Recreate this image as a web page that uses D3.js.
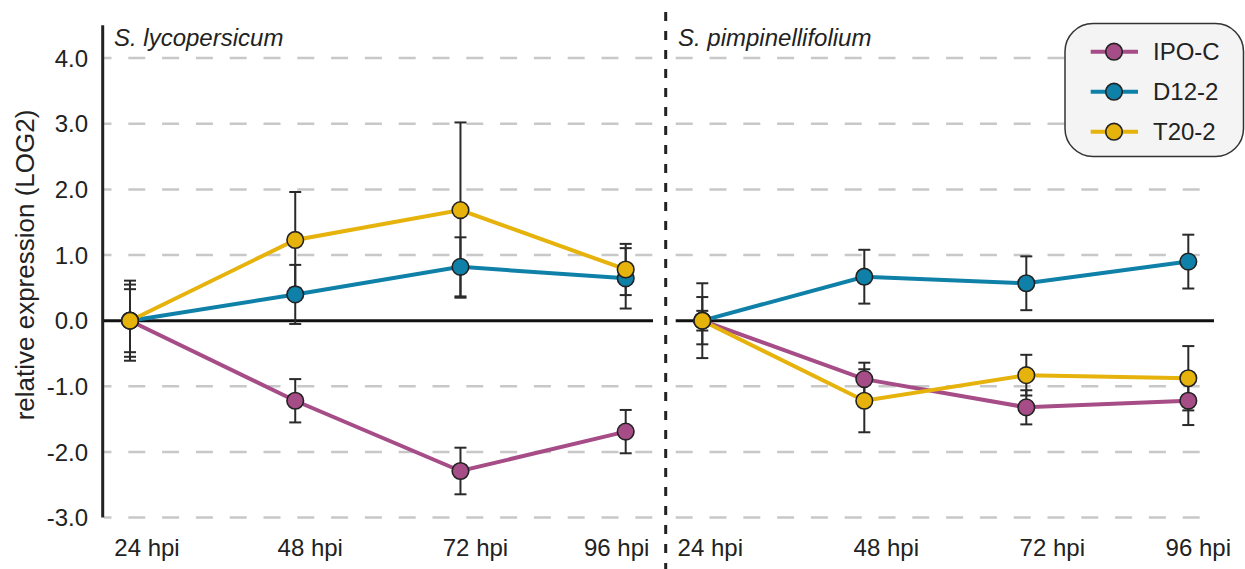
<!DOCTYPE html>
<html>
<head>
<meta charset="utf-8">
<script src="https://cdn.jsdelivr.net/npm/d3@7"></script>
<style>
  body { margin: 0; background: #fff; }
  svg { display: block; font-family: 'Liberation Sans', Arial, sans-serif; }
</style>
</head>
<body>
<svg id="chart" width="1245" height="569"></svg>
<script>
// time points and y ticks
const hpi = ['24 hpi', '48 hpi', '72 hpi', '96 hpi'];
const yTicks = [-3, -2, -1, 0, 1, 2, 3, 4];
const lines = ['IPO-C', 'D12-2', 'T20-2'];
const lineColors = ['#a64d87', '#0f80a8', '#e6b20c'];

// S. lycopersicum
const lycoIPO = [0, -1.22, -2.29, -1.69];
const lycoIPOErr = [0.55, 0.33, 0.355, 0.33];
const lycoD12 = [0, 0.40, 0.82, 0.645];
const lycoD12Err = [0.48, 0.45, 0.45, 0.46];
const lycoT20 = [0, 1.23, 1.685, 0.78];
const lycoT20Err = [0.61, 0.73, 1.335, 0.39];

// S. pimpinellifolium
const pimpIPO = [0, -0.89, -1.32, -1.22];
const pimpIPOErr = [0.15, 0.25, 0.26, 0.37];
const pimpD12 = [0, 0.67, 0.57, 0.90];
const pimpD12Err = [0.57, 0.41, 0.41, 0.41];
const pimpT20 = [0, -1.22, -0.83, -0.877];
const pimpT20Err = [0.36, 0.48, 0.31, 0.49];

// the tick labels sit a little off the points in the original
const lycoLabelShift = [17, 15, 15, -9];
const pimpLabelShift = [8, 22, 26, 10];

const panels = [
  { title: 'S. lycopersicum', x0: 104, x1: 653, range: [130, 625.7], shift: lycoLabelShift,
    values: [lycoIPO, lycoD12, lycoT20], errs: [lycoIPOErr, lycoD12Err, lycoT20Err] },
  { title: 'S. pimpinellifolium', x0: 675.7, x1: 1214, range: [702.3, 1188.3], shift: pimpLabelShift,
    values: [pimpIPO, pimpD12, pimpT20], errs: [pimpIPOErr, pimpD12Err, pimpT20Err] }
];

const svg = d3.select('#chart');
const y = d3.scaleLinear().domain([-3, 4.5]).range([517.6, 25.3]);
const textColor = '#222';

panels.forEach((p, pi) => {
  const x = d3.scalePoint().domain(hpi).range(p.range);
  const g = svg.append('g');

  // dashed grid
  g.selectAll('.grid')
    .data(yTicks.filter((t) => t !== 0))
    .enter()
    .append('line')
    .attr('x1', p.x0)
    .attr('x2', p.x1)
    .attr('y1', (d) => y(d))
    .attr('y2', (d) => y(d))
    .attr('stroke', '#c8c8c8')
    .attr('stroke-width', 2.5)
    .attr('stroke-dasharray', '17,16.8')
    .attr('stroke-dashoffset', pi === 0 ? 9.5 : 0);

  // zero line
  g.append('line')
    .attr('x1', p.x0).attr('x2', p.x1)
    .attr('y1', y(0)).attr('y2', y(0))
    .attr('stroke', '#111')
    .attr('stroke-width', 3);

  // x labels
  g.selectAll('.xlab')
    .data(hpi)
    .enter()
    .append('text')
    .attr('x', (d, i) => x(d) + p.shift[i])
    .attr('y', 556)
    .attr('text-anchor', 'middle')
    .attr('font-size', 24)
    .attr('fill', textColor)
    .text((d) => d);

  // title
  g.append('text')
    .attr('x', pi === 0 ? 114 : 678)
    .attr('y', 46)
    .attr('font-size', 24)
    .attr('font-style', 'italic')
    .attr('fill', textColor)
    .text(p.title);

  // error bars
  p.values.forEach((vals, si) => {
    const eg = g.append('g')
      .attr('stroke', '#2a2a2a')
      .attr('stroke-width', 2);
    vals.forEach((v, i) => {
      const e = p.errs[si][i];
      const cx = x(hpi[i]);
      eg.append('line')
        .attr('x1', cx).attr('x2', cx)
        .attr('y1', y(v + e)).attr('y2', y(v - e));
      [v + e, v - e].forEach((c) => {
        eg.append('line')
          .attr('x1', cx - 6).attr('x2', cx + 6)
          .attr('y1', y(c)).attr('y2', y(c));
      });
    });
  });

  // lines and markers
  p.values.forEach((vals, si) => {
    const line = d3.line()
      .x((_, i) => x(hpi[i]))
      .y((d) => y(d));
    g.append('path')
      .datum(vals)
      .attr('d', line)
      .attr('fill', 'none')
      .attr('stroke', lineColors[si])
      .attr('stroke-width', 4);
  });
  p.values.forEach((vals, si) => {
    g.selectAll(`.dot${si}`)
      .data(vals)
      .enter()
      .append('circle')
      .attr('cx', (_, i) => x(hpi[i]))
      .attr('cy', (d) => y(d))
      .attr('r', 8.3)
      .attr('fill', lineColors[si])
      .attr('stroke', '#222')
      .attr('stroke-width', 1.6);
  });
});

// left y axis
svg.append('line')
  .attr('x1', 102.7).attr('x2', 102.7)
  .attr('y1', y(4.5)).attr('y2', y(-3))
  .attr('stroke', '#222')
  .attr('stroke-width', 3);

svg.selectAll('.ytick')
  .data(yTicks)
  .enter()
  .append('text')
  .attr('x', 88)
  .attr('y', (d) => y(d))
  .attr('dy', '0.36em')
  .attr('text-anchor', 'end')
  .attr('font-size', 24)
  .attr('fill', textColor)
  .text((d) => d.toFixed(1));

svg.append('text')
  .attr('transform', 'translate(34,265) rotate(-90)')
  .attr('text-anchor', 'middle')
  .attr('font-size', 26)
  .attr('fill', textColor)
  .text('relative expression (LOG2)');

// panel divider
svg.append('line')
  .attr('x1', 665.7).attr('x2', 665.7)
  .attr('y1', 12).attr('y2', 569)
  .attr('stroke', '#222')
  .attr('stroke-width', 3)
  .attr('stroke-dasharray', '9,10');

// legend
const legend = svg.append('g');
legend.append('rect')
  .attr('x', 1065).attr('y', 23.5)
  .attr('width', 178.5).attr('height', 133)
  .attr('rx', 28)
  .attr('fill', '#f4f4f4')
  .attr('stroke', '#333')
  .attr('stroke-width', 1.5);

const item = legend.selectAll('.item')
  .data(lines)
  .enter()
  .append('g')
  .attr('transform', (_, i) => `translate(0,${51.7 + i * 40})`);

item.append('line')
  .attr('x1', 1090.7).attr('x2', 1138)
  .attr('stroke', (_, i) => lineColors[i])
  .attr('stroke-width', 4);
item.append('circle')
  .attr('cx', 1114).attr('r', 8.3)
  .attr('fill', (_, i) => lineColors[i])
  .attr('stroke', '#222')
  .attr('stroke-width', 1.6);
item.append('text')
  .attr('x', 1153)
  .attr('dy', '0.36em')
  .attr('font-size', 24)
  .attr('fill', textColor)
  .text((d) => d);
</script>
</body>
</html>
